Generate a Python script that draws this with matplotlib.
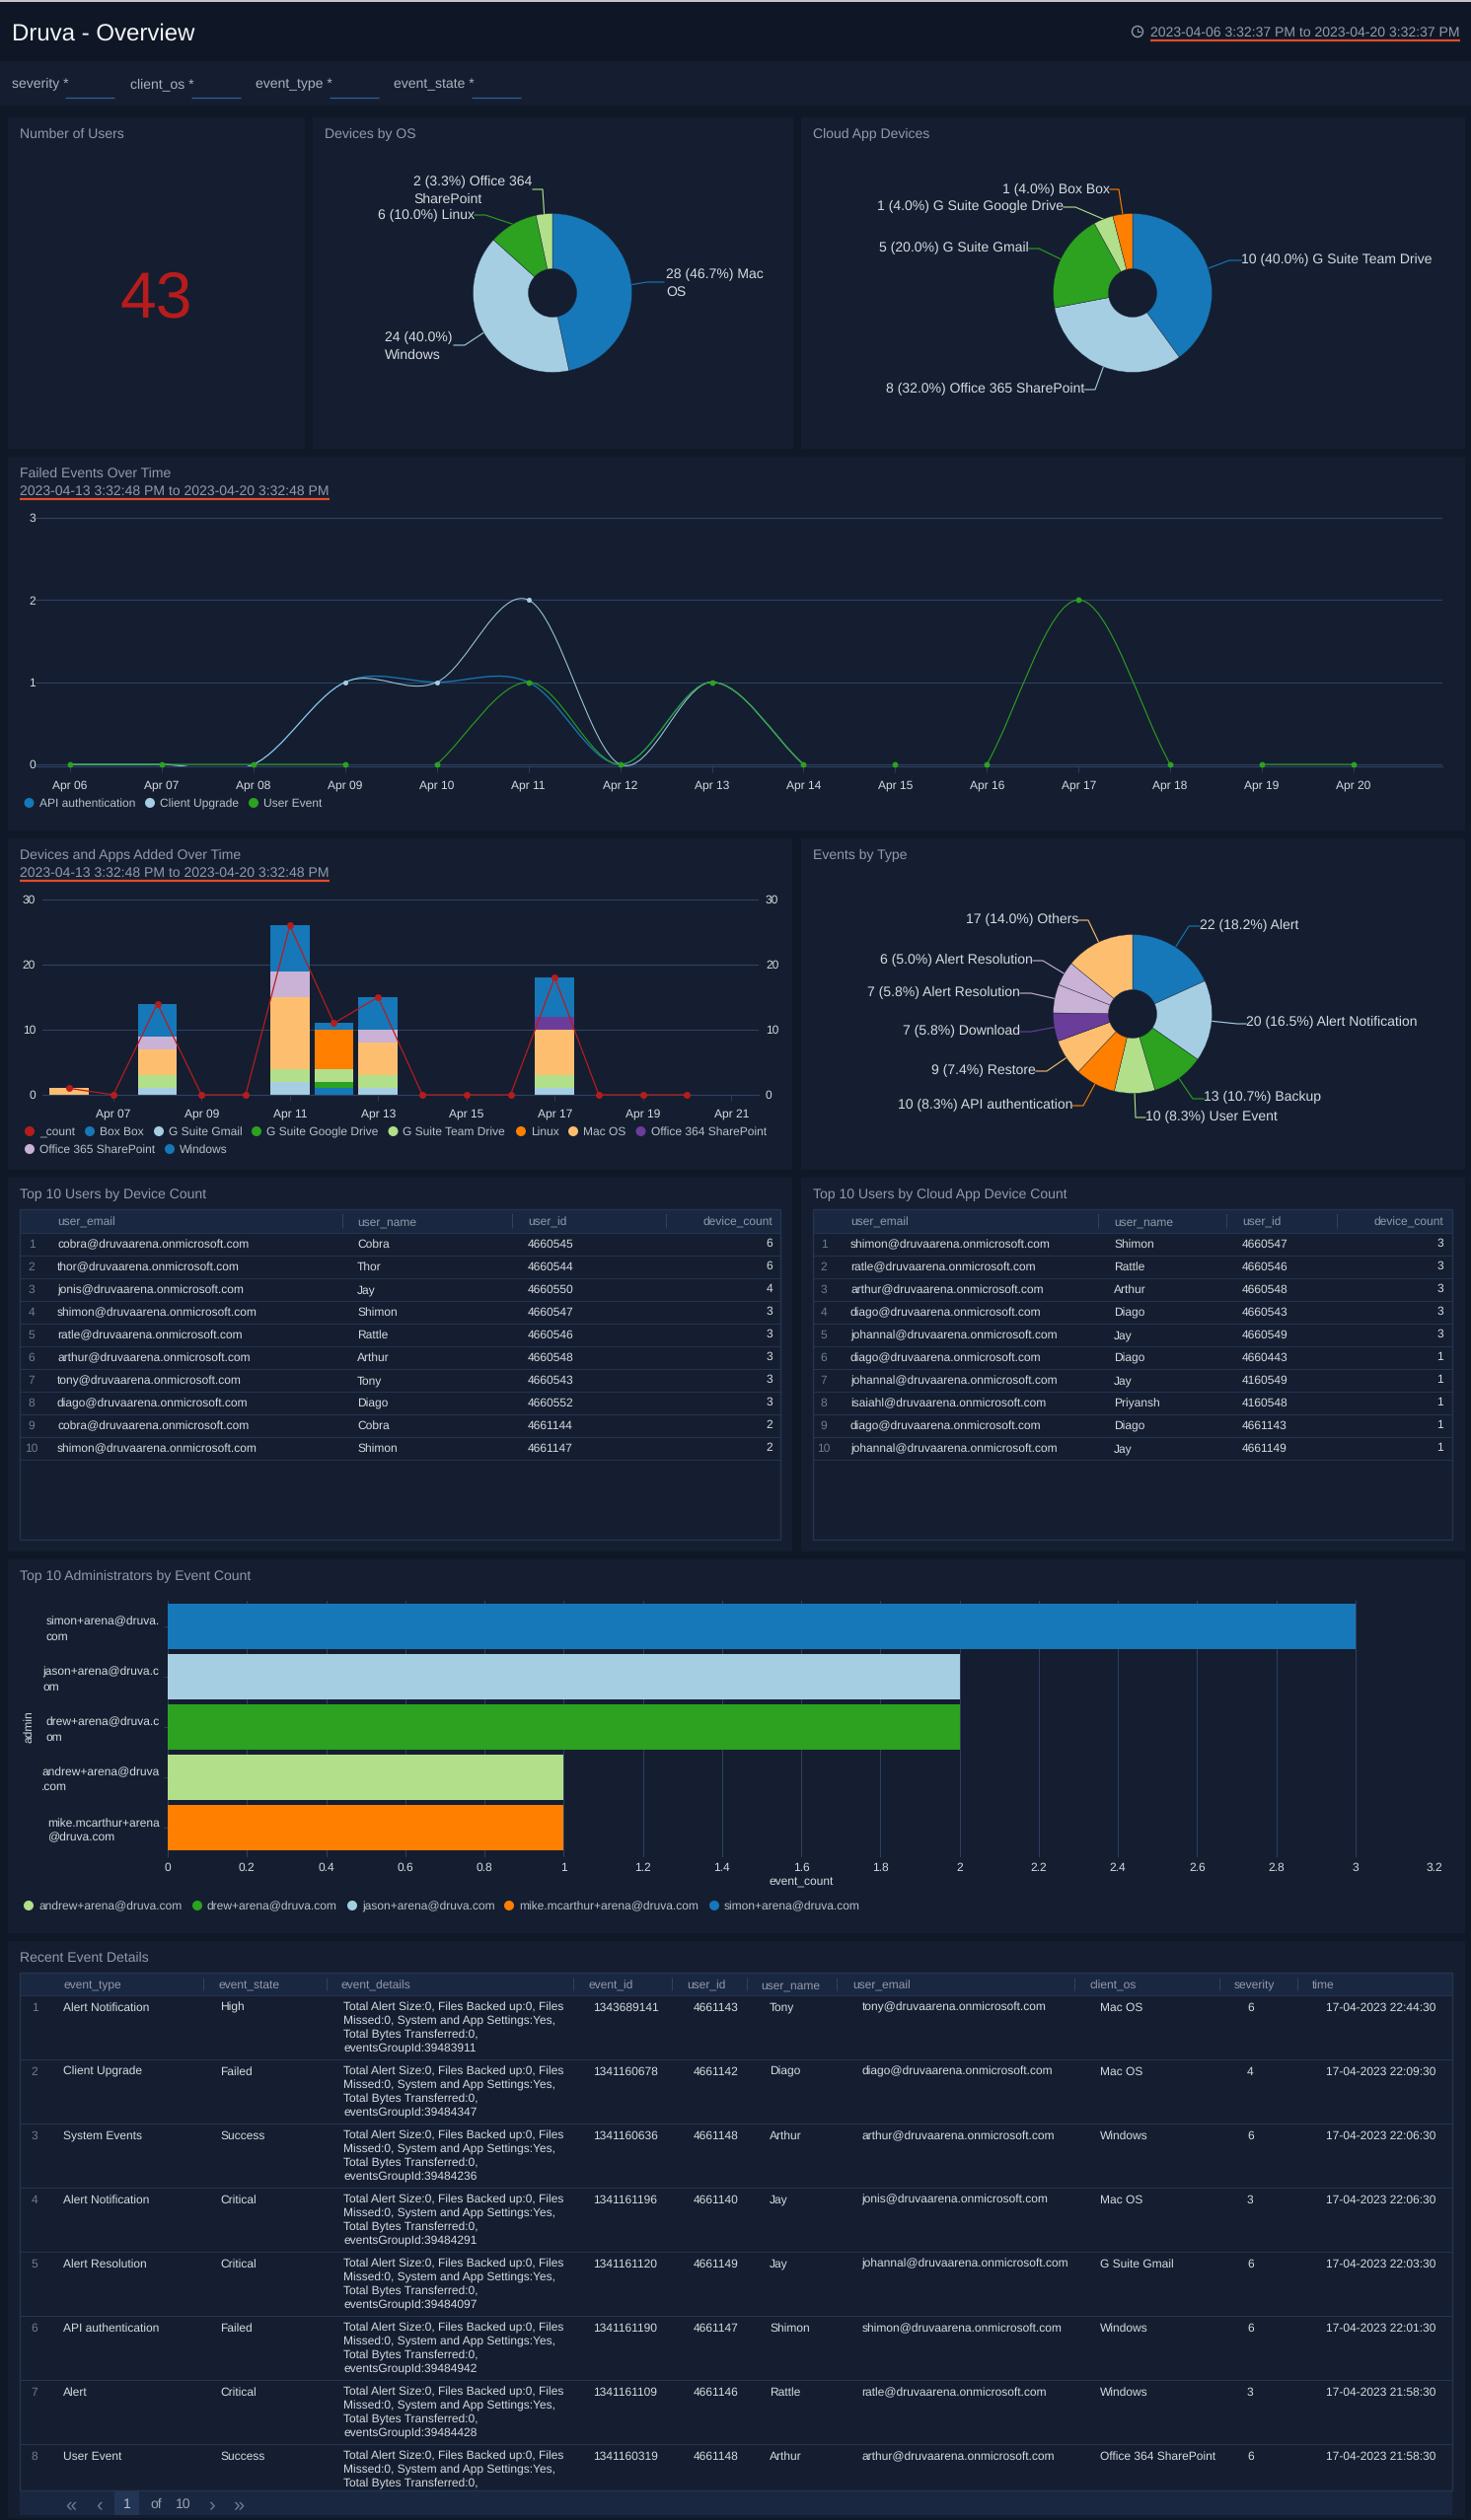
import numpy as np
import matplotlib
matplotlib.use("Agg")
import matplotlib.pyplot as plt
from matplotlib.path import Path
from matplotlib.patches import PathPatch, Rectangle, Circle

W, H = 1491, 2555
plt.rcParams["font.family"] = ["Liberation Sans", "DejaVu Sans"]
plt.rcParams["text.hinting"] = "no_hinting"

# colours
PAGE = "#0f1826"
PANEL = "#141e30"
HEAD = "#1a2740"
LINE = "#24344f"
GRID = "#2e4263"
TITLE = "#8f9bab"
TXT = "#d6dae0"
IDX = "#6f7c8e"
RED = "#e8492a"
BLUE, LBLUE = "#1678b8", "#a6cee3"
GREEN, LGREEN = "#2ca220", "#b2df8a"
ORANGE, LORANGE = "#ff7f00", "#fdbf6f"
PURPLE, LAVENDER = "#6a3d9a", "#cab2d6"
CRIMSON = "#b71c1c"

# ---- data ----
users_total = 43

os_names = ["Mac\nOS", "\nWindows", "Linux", "Office 364\nSharePoint"]
os_values = [28, 24, 6, 2]
os_colors = [BLUE, LBLUE, GREEN, LGREEN]

cloud_names = ["G Suite Team Drive", "Office 365 SharePoint", "G Suite Gmail", "G Suite Google Drive", "Box Box"]
cloud_values = [10, 8, 5, 1, 1]
cloud_colors = [BLUE, LBLUE, GREEN, LGREEN, ORANGE]

type_names = ["Alert", "Alert Notification", "Backup", "User Event", "API authentication",
              "Restore", "Download", "Alert Resolution", "Alert Resolution", "Others"]
type_values = [22, 20, 13, 10, 10, 9, 7, 7, 6, 17]
type_colors = [BLUE, LBLUE, GREEN, LGREEN, ORANGE, LORANGE, PURPLE, LAVENDER, LAVENDER, LORANGE]

failed_days = ["Apr 06", "Apr 07", "Apr 08", "Apr 09", "Apr 10", "Apr 11", "Apr 12", "Apr 13",
               "Apr 14", "Apr 15", "Apr 16", "Apr 17", "Apr 18", "Apr 19", "Apr 20"]
api_auth = [0, 0, 0, 1, 1, 1, 0, 1, 0]
client_upgrade = [0, 0, 0, 1, 1, 2, 0, 1, 0]
user_event = [0, 0, 0, 0, 0, 1, 0, 1, 0, 0, 0, 2, 0, 0, 0]
user_event_runs = [(0, 3), (4, 8), (10, 12), (13, 14)]

added_ticks = ["Apr 07", "Apr 09", "Apr 11", "Apr 13", "Apr 15", "Apr 17", "Apr 19", "Apr 21"]
added_count = [1, 0, 14, 0, 0, 26, 11, 15, 0, 0, 0, 18, 0, 0, 0]
box_box = [0, 0, 0, 0, 0, 0, 1, 0, 0, 0, 0, 0, 0, 0, 0]
g_gmail = [0, 0, 1, 0, 0, 2, 0, 1, 0, 0, 0, 1, 0, 0, 0]
g_drive = [0, 0, 0, 0, 0, 0, 1, 0, 0, 0, 0, 0, 0, 0, 0]
g_team = [0, 0, 2, 0, 0, 2, 2, 2, 0, 0, 0, 2, 0, 0, 0]
linux = [0, 0, 0, 0, 0, 0, 6, 0, 0, 0, 0, 0, 0, 0, 0]
mac_os = [1, 0, 4, 0, 0, 11, 0, 5, 0, 0, 0, 7, 0, 0, 0]
office364 = [0, 0, 0, 0, 0, 0, 0, 0, 0, 0, 0, 2, 0, 0, 0]
office365 = [0, 0, 2, 0, 0, 4, 0, 2, 0, 0, 0, 0, 0, 0, 0]
windows = [0, 0, 5, 0, 0, 7, 1, 5, 0, 0, 0, 6, 0, 0, 0]
stack_series = [box_box, g_gmail, g_drive, g_team, linux, mac_os, office364, office365, windows]
stack_colors = [BLUE, LBLUE, GREEN, LGREEN, ORANGE, LORANGE, PURPLE, LAVENDER, BLUE]

admins = ["simon+arena@druva.\ncom", "jason+arena@druva.c\nom", "drew+arena@druva.c\nom",
          "andrew+arena@druva\n.com", "mike.mcarthur+arena\n@druva.com"]
admin_counts = [3, 2, 2, 1, 1]
admin_colors = [BLUE, LBLUE, GREEN, LGREEN, ORANGE]
admin_ticks = [0, 0.2, 0.4, 0.6, 0.8, 1, 1.2, 1.4, 1.6, 1.8, 2, 2.2, 2.4, 2.6, 2.8, 3, 3.2]

device_head = ["user_email", "user_name", "user_id", "device_count"]
device_emails = ["cobra@druvaarena.onmicrosoft.com", "thor@druvaarena.onmicrosoft.com",
                 "jonis@druvaarena.onmicrosoft.com", "shimon@druvaarena.onmicrosoft.com",
                 "ratle@druvaarena.onmicrosoft.com", "arthur@druvaarena.onmicrosoft.com",
                 "tony@druvaarena.onmicrosoft.com", "diago@druvaarena.onmicrosoft.com",
                 "cobra@druvaarena.onmicrosoft.com", "shimon@druvaarena.onmicrosoft.com"]
device_users = ["Cobra", "Thor", "Jay", "Shimon", "Rattle", "Arthur", "Tony", "Diago", "Cobra", "Shimon"]
device_ids = ["4660545", "4660544", "4660550", "4660547", "4660546", "4660548", "4660543", "4660552", "4661144", "4661147"]
device_counts = [6, 6, 4, 3, 3, 3, 3, 3, 2, 2]

cloud_emails = ["shimon@druvaarena.onmicrosoft.com", "ratle@druvaarena.onmicrosoft.com",
                "arthur@druvaarena.onmicrosoft.com", "diago@druvaarena.onmicrosoft.com",
                "johannal@druvaarena.onmicrosoft.com", "diago@druvaarena.onmicrosoft.com",
                "johannal@druvaarena.onmicrosoft.com", "isaiahl@druvaarena.onmicrosoft.com",
                "diago@druvaarena.onmicrosoft.com", "johannal@druvaarena.onmicrosoft.com"]
cloud_users = ["Shimon", "Rattle", "Arthur", "Diago", "Jay", "Diago", "Jay", "Priyansh", "Diago", "Jay"]
cloud_ids = ["4660547", "4660546", "4660548", "4660543", "4660549", "4660443", "4160549", "4160548", "4661143", "4661149"]
cloud_counts = [3, 3, 3, 3, 3, 1, 1, 1, 1, 1]

event_head = ["event_type", "event_state", "event_details", "event_id", "user_id",
              "user_name", "user_email", "client_os", "severity", "time"]
event_types = ["Alert Notification", "Client Upgrade", "System Events", "Alert Notification",
               "Alert Resolution", "API authentication", "Alert", "User Event"]
event_states = ["High", "Failed", "Success", "Critical", "Critical", "Failed", "Critical", "Success"]
event_groups = ["39483911", "39484347", "39484236", "39484291", "39484097", "39484942", "39484428", ""]
event_ids = ["1343689141", "1341160678", "1341160636", "1341161196", "1341161120", "1341161190", "1341161109", "1341160319"]
event_user_ids = ["4661143", "4661142", "4661148", "4661140", "4661149", "4661147", "4661146", "4661148"]
event_users = ["Tony", "Diago", "Arthur", "Jay", "Jay", "Shimon", "Rattle", "Arthur"]
event_emails = ["tony@druvaarena.onmicrosoft.com", "diago@druvaarena.onmicrosoft.com",
                "arthur@druvaarena.onmicrosoft.com", "jonis@druvaarena.onmicrosoft.com",
                "johannal@druvaarena.onmicrosoft.com", "shimon@druvaarena.onmicrosoft.com",
                "ratle@druvaarena.onmicrosoft.com", "arthur@druvaarena.onmicrosoft.com"]
event_os = ["Mac OS", "Mac OS", "Windows", "Mac OS", "G Suite Gmail", "Windows", "Windows", "Office 364 SharePoint"]
event_sev = [6, 4, 6, 3, 6, 6, 3, 6]
event_times = ["17-04-2023 22:44:30", "17-04-2023 22:09:30", "17-04-2023 22:06:30", "17-04-2023 22:06:30",
               "17-04-2023 22:03:30", "17-04-2023 22:01:30", "17-04-2023 21:58:30", "17-04-2023 21:58:30"]

# ---- page ----
fig = plt.figure(figsize=(W / 100, H / 100), dpi=100, facecolor=PAGE)
bg = fig.add_axes([0, 0, 1, 1], zorder=0)
bg.set_xlim(0, W)
bg.set_ylim(H, 0)
bg.axis("off")


def put(x, y, s, px=12, color=TXT, ha="left", **kw):
    kw.setdefault("zorder", 3)
    return bg.text(x, y, s, fontsize=px * 0.72, color=color, ha=ha, va="center_baseline", **kw)


def box(x0, y0, x1, y1, color=PANEL, **kw):
    bg.add_patch(Rectangle((x0, y0), x1 - x0, y1 - y0, facecolor=color, edgecolor="none", **kw))


def hline(x0, x1, y, color=LINE, lw=1.0, zorder=2):
    bg.plot([x0, x1], [y, y], color=color, lw=lw * 0.72, zorder=zorder, solid_capstyle="butt")


def vline(x, y0, y1, color=LINE, lw=1.0, zorder=2):
    bg.plot([x, x], [y0, y1], color=color, lw=lw * 0.72, zorder=zorder, solid_capstyle="butt")


def px_axes(x0, y0, x1, y1, **kw):
    ax = fig.add_axes([x0 / W, 1 - y1 / H, (x1 - x0) / W, (y1 - y0) / H], zorder=1, **kw)
    ax.patch.set_visible(False)
    return ax


def panel(x0, y0, x1, y1, title):
    box(x0, y0, x1, y1)
    put(x0 + 12, y0 + 16, title, 14, TITLE)


def date_range(x, y, s):
    put(x, y, s, 14, TITLE)
    hline(x, x + 314, y + 9, RED, 2.2)


def legend(items, y):
    for (dx, name, color) in items:
        bg.add_patch(Circle((dx, y), 5, facecolor=color, edgecolor="none", zorder=3))
        put(dx + 10, y, name, 12, "#b9c0ca")


# header and filter strip
box(0, 0, W, 62, "#0f1726")
box(0, 0, W, 1.5, "#c9c3cc")
box(0, 62, W, 107, PANEL)
put(12, 32, "Druva - Overview", 24, "#f2f4f6")
bg.add_patch(Circle((1153, 32), 5.5, facecolor="none", edgecolor=TITLE, lw=1.0, zorder=3))
bg.plot([1153, 1153, 1156], [28.5, 32, 32], color=TITLE, lw=0.7, zorder=3)
put(1166, 32, "2023-04-06 3:32:37 PM to 2023-04-20 3:32:37 PM", 14, TITLE)
hline(1166, 1480, 41, RED, 2.2)
for x, name, u0, u1 in [(12, "severity", 66, 116), (132, "client_os", 194, 244),
                        (259, "event_type", 334, 384), (399, "event_state", 478, 528)]:
    put(x, 84, name + " *", 14, "#a8b2bf")
    hline(u0, u1, 98.5, "#2f5f8f", 1.3)

# ---- single value ----
panel(8, 119, 309, 455, "Number of Users")
put(158, 297, str(users_total), 66, CRIMSON, ha="center")


# ---- pies ----
def draw_pie(cx, cy, values, names, colors, layout, r=80.5, hole=24.5):
    # layout per slice: text x, text y, ha, stub start x, elbow x, stub y
    ax = px_axes(cx - r, cy - r, cx + r, cy + r)
    wedges, _ = ax.pie(values, colors=colors, startangle=90, counterclock=False, radius=1,
                       wedgeprops=dict(width=1 - hole / r, edgecolor=PANEL, linewidth=0.25))
    ax.set_xlim(-1, 1)
    ax.set_ylim(-1, 1)
    total = sum(values)
    for v, name, color, wedge, (tx, ty, ha, sx, ex, ly) in zip(values, names, colors, wedges, layout):
        label = f"{v} ({100 * v / total:.1f}%) {name}"
        put(tx, ty, label, 14, TXT, ha=ha, linespacing=1.38, multialignment="left")
        mid = np.deg2rad((wedge.theta1 + wedge.theta2) / 2)
        tip = (cx + r * np.cos(mid), cy - r * np.sin(mid))
        bg.plot([sx, ex, tip[0]], [ly, ly, tip[1]], color=color, lw=0.8, zorder=2)


panel(317, 119, 804, 455, "Devices by OS")
draw_pie(560, 297, os_values, os_names, os_colors,
         [(675, 284, "left", 673, 656, 286), (390, 348, "left", 460, 471, 350),
          (481, 217, "right", 481, 492, 218), (419, 190, "left", 540, 550, 192)])
panel(812, 119, 1485, 455, "Cloud App Devices")
draw_pie(1148, 297, cloud_values, cloud_names, cloud_colors,
         [(1258, 262, "left", 1258, 1246, 264), (1099, 393, "right", 1099, 1110, 395),
          (1043, 250, "right", 1043, 1053, 252), (1078, 208, "right", 1078, 1090, 210),
          (1125, 191, "right", 1125, 1134, 192)])

panel(812, 850, 1485, 1186, "Events by Type")
draw_pie(1148, 1028, type_values, type_names, type_colors,
         [(1216, 937, "left", 1216, 1205, 939), (1263, 1035, "left", 1263, 1254, 1038),
          (1220, 1111, "left", 1220, 1209, 1114), (1161, 1131, "left", 1161, 1151, 1133),
          (1087, 1119, "right", 1087, 1098, 1121), (1050, 1084, "right", 1050, 1061, 1086),
          (1034, 1044, "right", 1034, 1045, 1046), (1034, 1005, "right", 1034, 1045, 1007),
          (1047, 972, "right", 1047, 1057, 974), (1093, 931, "right", 1093, 1103, 933)])

# ---- failed events line chart ----
panel(8, 463, 1485, 842, "Failed Events Over Time")
date_range(20, 497, "2023-04-13 3:32:48 PM to 2023-04-20 3:32:48 PM")

ax = px_axes(36, 523, 1462, 777)
step = (1372 - 71) / 14
ax.set_xlim((36 - 71) / step, (1462 - 71) / step)
ax.set_ylim(-2 / 83.33, 3 + 2 / 83.33)
ax.set_yticks([0, 1, 2, 3])
ax.set_xticks(range(len(failed_days)), failed_days)
ax.grid(axis="y", color=GRID, lw=0.8)
ax.set_axisbelow(True)
for s in ["top", "left", "right"]:
    ax.spines[s].set_visible(False)
ax.spines["bottom"].set_color(GRID)
ax.spines["bottom"].set_linewidth(0.8)
ax.tick_params(axis="x", length=4, width=0.6, color=GRID, labelsize=12 * 0.72, labelcolor=TXT, pad=6)
ax.tick_params(axis="y", length=0, labelsize=12 * 0.72, labelcolor=TXT, pad=0)


def smooth(ax, days, values, color, lw=1.0):
    # catmull-rom through the points, same look as the dashboard's spline
    xs, ys = np.asarray(days, float), np.asarray(values, float)
    ms = np.gradient(ys)
    verts = [(xs[0], ys[0])]
    codes = [Path.MOVETO]
    for i in range(len(xs) - 1):
        verts += [(xs[i] + 1 / 3, ys[i] + ms[i] / 3), (xs[i + 1] - 1 / 3, ys[i + 1] - ms[i + 1] / 3),
                  (xs[i + 1], ys[i + 1])]
        codes += [Path.CURVE4] * 3
    ax.add_patch(PathPatch(Path(verts, codes), facecolor="none", edgecolor=color, lw=lw * 0.72))


smooth(ax, range(len(api_auth)), api_auth, BLUE, 1.3)
smooth(ax, range(len(client_upgrade)), client_upgrade, LBLUE, 1.0)
for a, b in user_event_runs:
    smooth(ax, range(a, b + 1), user_event[a:b + 1], GREEN, 1.1)
ax.plot(range(3, 6), client_upgrade[3:6], "o", ms=3.6, color=LBLUE, mec="none", clip_on=False, zorder=4)
ax.plot(range(len(user_event)), user_event, "o", ms=4.2, color=GREEN, mec="none", clip_on=False, zorder=5)
legend([(29.5, "API authentication", BLUE), (152, "Client Upgrade", LBLUE), (257, "User Event", GREEN)], 814)

# ---- devices and apps stacked bars ----
panel(8, 850, 803, 1186, "Devices and Apps Added Over Time")
date_range(20, 884, "2023-04-13 3:32:48 PM to 2023-04-20 3:32:48 PM")

ax = px_axes(43, 912, 769, 1110)
day_w = 44.75
ax.set_xlim((43 - 70) / day_w, (769 - 70) / day_w)
ax.set_ylim(0, 30)
days = np.arange(len(added_count))
bottom = np.zeros(len(days))
for series, color in zip(stack_series, stack_colors):
    ax.bar(days, series, 0.885, bottom=bottom, color=color, linewidth=0, zorder=2)
    bottom += np.array(series)
ax.plot(days, added_count, color=CRIMSON, lw=0.9, marker="o", ms=5, mec="none", zorder=3, clip_on=False)
ax.set_yticks([0, 10, 20, 30])
ax.set_xticks(np.arange(1, 16, 2), added_ticks)
ax.grid(axis="y", color=GRID, lw=0.8, zorder=0)
ax.set_axisbelow(True)
for s in ["top", "left", "right"]:
    ax.spines[s].set_visible(False)
ax.spines["bottom"].set_color(GRID)
ax.spines["bottom"].set_linewidth(0.8)
ax.tick_params(axis="x", length=4, width=0.6, color=GRID, labelsize=12 * 0.72, labelcolor=TXT, pad=6)
ax.tick_params(axis="y", length=0, labelsize=12 * 0.72, labelcolor=TXT, pad=5)
ax2 = ax.twinx()
ax2.patch.set_visible(False)
ax2.set_ylim(0, 30)
ax2.set_yticks([0, 10, 20, 30])
ax2.tick_params(axis="y", length=0, labelsize=12 * 0.72, labelcolor=TXT, pad=5)
for s in ax2.spines.values():
    s.set_visible(False)
legend([(30, "_count", CRIMSON), (91, "Box Box", BLUE), (161, "G Suite Gmail", LBLUE),
        (260, "G Suite Google Drive", GREEN), (398.5, "G Suite Team Drive", LGREEN),
        (528, "Linux", ORANGE), (581, "Mac OS", LORANGE), (649.5, "Office 364 SharePoint", PURPLE)], 1147)
legend([(30, "Office 365 SharePoint", LAVENDER), (172, "Windows", BLUE)], 1165)


# ---- tables ----
def top_table(x0, x1, head, cols, rows, xs, seps):
    y0, y1 = 1226, 1561
    box(x0, y0, x1, y0 + 23.5, HEAD)
    bg.add_patch(Rectangle((x0, y0), x1 - x0, y1 - y0, facecolor="none", edgecolor=LINE, lw=1, zorder=2))
    for s in seps:
        vline(s, y0 + 4, y0 + 19, GRID)
    for j, name in enumerate(head):
        put(xs[j], y0 + 12, name, 12, TITLE, ha="right" if j == 3 else "left")
    for i in range(rows):
        yc = y0 + 35 + 23 * i
        hline(x0, x1, y0 + 23.5 + 23 * i, LINE)
        put(x0 + (12 if x0 < 100 else 11), yc, str(i + 1), 12, IDX, ha="center")
        for j, col in enumerate(cols):
            if j == 3:
                put(xs[j], yc - 1, str(col[i]), 12, TXT, ha="right")
            else:
                put(xs[j], yc, col[i], 12, TXT)
    hline(x0, x1, y0 + 23.5 + 23 * rows, LINE)


panel(8, 1194, 803, 1573, "Top 10 Users by Device Count")
top_table(20, 791, device_head, [device_emails, device_users, device_ids, device_counts], 10,
          [58, 362, 535, 783], [347, 519, 675])
panel(812, 1194, 1485, 1573, "Top 10 Users by Cloud App Device Count")
top_table(824, 1472, device_head, [cloud_emails, cloud_users, cloud_ids, cloud_counts], 10,
          [862, 1129, 1259, 1463], [1113, 1243, 1355])

# ---- administrators bars ----
panel(8, 1581, 1485, 1960, "Top 10 Administrators by Event Count")
ax = px_axes(170, 1623, 1454, 1883)
ax.set_xlim(0, 3.2)
ax.set_ylim(4.59, -0.51)
ax.barh(range(len(admins)), admin_counts, 0.902, color=admin_colors, linewidth=0, zorder=2)
ax.set_xticks(admin_ticks, [f"{t:g}" for t in admin_ticks])
ax.set_yticks(range(len(admins)), admins, ha="right", multialignment="left", linespacing=1.4)
ax.grid(axis="x", color=GRID, lw=0.7, zorder=0)
ax.set_axisbelow(True)
for s in ax.spines.values():
    s.set_visible(False)
ax.tick_params(axis="x", length=0, labelsize=12 * 0.72, labelcolor=TXT, pad=4)
ax.tick_params(axis="y", length=3, width=0.6, color=GRID, labelsize=12 * 0.72, labelcolor=TXT, pad=3)
put(812, 1907, "event_count", 12, TXT, ha="center")
put(28, 1751, "admin", 12, TXT, ha="center", rotation=90, rotation_mode="anchor")
legend([(29, "andrew+arena@druva.com", LGREEN), (200, "drew+arena@druva.com", GREEN),
        (357, "jason+arena@druva.com", LBLUE), (516, "mike.mcarthur+arena@druva.com", ORANGE),
        (724, "simon+arena@druva.com", BLUE)], 1932)

# ---- recent events table ----
panel(8, 1968, 1485, 2553, "Recent Event Details")
tx0, tx1 = 20, 1472
box(tx0, 2000, tx1, 2023, HEAD)
bg.add_patch(Rectangle((tx0, 2000), tx1 - tx0, 525, facecolor="none", edgecolor=LINE, lw=1, zorder=2))
head_x = [64, 221, 345, 596, 696, 771.5, 864, 1104.5, 1251, 1330]
col_x = [64, 223, 348, 601.5, 703, 780, 873.5, 1115, 1264, 1344]
for s in [206, 331, 581, 681, 757, 848, 1088.5, 1236, 1314.5]:
    vline(s, 2005, 2018, GRID)
for x, name in zip(head_x, event_head):
    put(x, 2012, name, 12, TITLE)
for i in range(len(event_types)):
    yt = 2034.5 + 65 * i
    hline(tx0, tx1, 2023 + 65 * i, LINE)
    put(35, yt, str(i + 1), 12, IDX, ha="center")
    row = [event_types[i], event_states[i], None, event_ids[i], event_user_ids[i], event_users[i],
           event_emails[i], event_os[i], str(event_sev[i]), event_times[i]]
    for x, val in zip(col_x, row):
        if val is not None:
            put(x, yt, val, 12, TXT)
    details = ["Total Alert Size:0, Files Backed up:0, Files", "Missed:0, System and App Settings:Yes,",
               "Total Bytes Transferred:0,", "eventsGroupId:" + event_groups[i]]
    for k, line in enumerate(details if event_groups[i] else details[:3]):
        put(col_x[2], yt + 14 * k, line, 12, TXT)

# pager
box(tx0, 2525, tx1, 2550, HEAD)
hline(tx0, tx1, 2525, LINE)
box(116, 2526, 141, 2550, "#223554")
put(72, 2538, "«", 20, IDX, ha="center")
put(100, 2538, "‹", 20, IDX, ha="center")
put(129, 2538, "1", 14, "#b9c0ca", ha="center")
put(158, 2538, "of", 14, "#9aa4b2", ha="center")
put(186, 2538, "10", 14, "#9aa4b2", ha="center")
put(214, 2538, "›", 20, IDX, ha="center")
put(242, 2538, "»", 20, IDX, ha="center")

fig.savefig("out.png", dpi=100, facecolor=PAGE)
